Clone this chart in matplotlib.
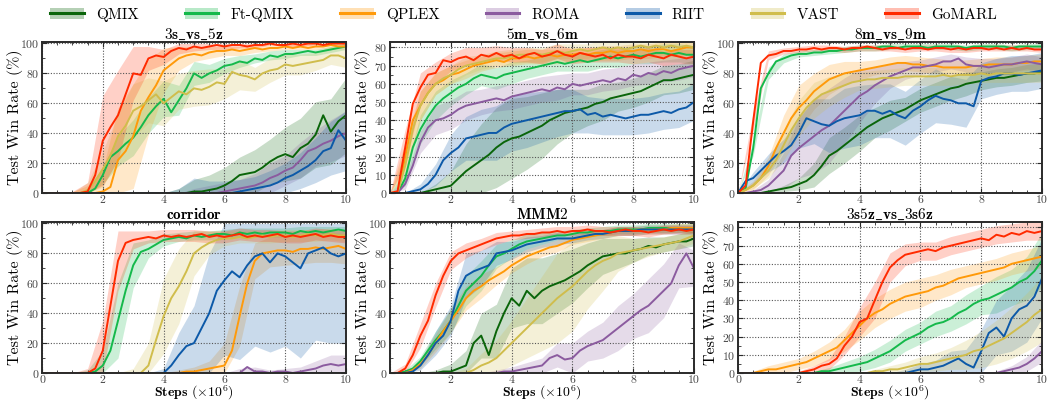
import numpy as np
import matplotlib
matplotlib.use('Agg')
import matplotlib.pyplot as plt
from matplotlib.lines import Line2D
from matplotlib.patches import Patch
from matplotlib.ticker import MultipleLocator

plt.rcParams.update({
    'font.family': 'serif', 'font.serif': ['cmr10'], 'mathtext.fontset': 'cm',
    'axes.formatter.use_mathtext': True, 'axes.unicode_minus': False,
})

methods = ['QMIX', 'Ft-QMIX', 'QPLEX', 'ROMA', 'RIIT', 'VAST', 'GoMARL']
colors = ['#0a650a', '#14b94b', '#ff9a0a', '#8b5b9f', '#0c59a8', '#d0bd4c', '#ff2a00']

steps = np.linspace(0, 10, 41)      # sample positions (x 1e6 steps)
band_steps = steps[::2]             # positions of the spread samples

titles = ['3s_vs_5z', '5m_vs_6m', '8m_vs_9m', 'corridor', 'MMM2', '3s5z_vs_3s6z']

mean_3s_vs_5z = {
    'QMIX': [0]*20 + [1,1,2,3,5,8,12,13,14,17,21,24,26,24,30,33,39,52,41,48,52],
    'Ft-QMIX': [0,0,0,0,0,0,0,3,12,24,28,33,37,44,52,58,63,54,62,70,80,77,80,82,85,86,88,87,90,89,92,91,93,93,94,95,94,95,96,97,98],
    'QPLEX': [0,0,0,0,0,0,0,0,1,4,22,28,38,55,64,72,82,86,90,92,93,92,94,95,95,96,95,96,97,96,97,97,98,97,98,97,98,98,99,98,98],
    'ROMA': [0]*24 + [1,2,3,4,5,7,10,12,15,17,22,28,30,33,35,38,40],
    'RIIT': [0]*26 + [1,2,3,4,5,7,10,12,15,18,22,28,30,42,35],
    'VAST': [0,0,0,0,0,0,2,8,16,25,38,45,55,58,62,66,60,64,68,66,70,69,71,74,73,81,79,78,76,80,82,83,86,85,86,87,88,89,92,92,90],
    'GoMARL': [0,0,0,0,0,0,1,12,35,44,52,66,80,79,90,92,91,95,97,96,98,97,98,99,98,99,99,98,99,99,100,99,99,100,99,100,100,99,100,100,100],
}
spread_3s_vs_5z = {
    'QMIX': [0]*9 + [3,8,10,12,12,15,15,18,20,22,22,25],
    'Ft-QMIX': [0,0,0,2,6,10,12,12,12,10,8,6,5,4,3,3,3,2,2,2,2],
    'QPLEX': [0,0,1,5,15,35,35,25,15,8,5,4,3,3,3,2,2,2,2,2,2],
    'ROMA': [0]*10 + [3,5,6,6,8,10,10,12,12,14,15],
    'RIIT': [0]*9 + [3,10,8,8,8,8,10,10,12,15,18,20],
    'VAST': [0,0,0,5,12,15,18,15,15,12,12,12,10,10,8,8,7,7,6,6,6],
    'GoMARL': [0,0,1,6,30,30,18,8,5,4,3,2,2,2,2,1,1,1,1,1,1],
}

mean_5m_vs_6m = {
    'QMIX': [0,0,0,0,0,1,2,3,4,8,12,15,18,21,25,28,30,31,33,35,37,40,42,44,45,46,47,49,50,52,53,54,55,56,58,60,62,62,63,64,65],
    'Ft-QMIX': [0,0,8,25,35,42,48,52,55,58,60,63,65,64,63,65,66,67,68,69,70,71,72,71,72,73,72,73,74,75,74,75,76,75,76,77,77,76,77,76,76],
    'QPLEX': [0,0,20,40,48,55,60,62,65,66,68,70,71,72,73,72,74,74,75,74,75,76,75,76,76,77,76,77,77,78,77,78,78,79,78,79,79,78,79,80,80],
    'ROMA': [0,0,5,15,28,36,40,41,43,46,48,49,50,51,52,51,53,54,55,56,57,56,58,57,60,59,60,61,62,61,63,62,65,64,66,65,67,66,68,69,70],
    'RIIT': [0,0,0,1,2,5,10,18,22,25,30,31,32,33,33,36,38,39,40,41,42,43,44,45,45,46,43,44,42,43,42,41,42,43,43,44,45,44,46,47,50],
    'VAST': [0,0,15,35,48,55,60,63,65,68,70,71,72,73,74,74,75,76,76,77,76,77,78,77,78,79,78,79,80,79,80,79,80,81,80,81,80,81,80,81,80],
    'GoMARL': [0,1,25,49,58,65,66,73,72,74,75,73,76,75,77,75,76,74,76,77,75,76,78,76,75,77,76,75,76,74,76,75,75,74,76,75,74,76,75,74,75],
}
spread_5m_vs_6m = {
    'QMIX': [0,0,0,3,8,15,20,22,22,20,18,15,12,10,10,8,8,8,8,8,8],
    'Ft-QMIX': [0,4,8,8,7,6,6,6,6,5,5,5,5,5,5,5,5,5,5,5,5],
    'QPLEX': [0,8,8,6,5,5,4,4,4,4,4,4,4,4,4,4,4,4,4,4,4],
    'ROMA': [0,3,6,8,8,8,7,7,7,7,7,7,6,6,6,6,6,6,6,6,6],
    'RIIT': [0,0,3,6,10,12,14,15,15,15,14,13,12,10,10,10,10,10,10,10,10],
    'VAST': [0,8,8,6,5,5,4,4,4,4,4,4,4,4,4,4,4,4,4,4,4],
    'GoMARL': [0,10,8,6,5,5,4,4,4,4,4,4,4,4,4,4,4,4,4,4,4],
}

mean_8m_vs_9m = {
    'QMIX': [0,0,0,0,1,2,3,4,6,8,12,18,25,28,32,36,40,44,47,50,52,54,56,59,62,64,66,68,70,71,73,74,75,76,77,77,78,79,80,80,81],
    'Ft-QMIX': [0,3,30,70,80,88,90,92,93,93,94,94,95,95,96,96,97,97,97,98,98,97,98,98,98,97,98,98,98,98,97,98,98,98,98,98,97,98,98,98,98],
    'QPLEX': [0,2,5,10,18,30,40,50,57,62,68,72,76,78,80,81,82,83,84,85,86,87,87,86,86,85,85,84,84,84,84,85,85,86,86,86,86,87,87,88,88],
    'ROMA': [0,0,1,2,5,10,15,25,30,34,38,42,45,50,55,60,65,68,72,75,78,80,82,84,84,85,86,88,88,90,86,85,85,84,85,86,86,87,88,87,86],
    'RIIT': [0,8,10,15,20,25,28,32,40,50,48,46,45,48,50,51,52,55,55,53,55,52,50,55,58,62,65,63,62,60,60,58,75,77,78,80,80,79,80,81,82],
    'VAST': [0,2,5,10,15,22,32,42,50,57,62,66,68,70,72,74,75,76,76,77,77,77,78,78,78,78,78,79,78,79,79,79,80,79,80,80,80,80,80,80,80],
    'GoMARL': [0,5,48,87,92,93,95,95,96,96,97,96,97,97,96,97,97,98,97,96,97,97,96,97,97,96,97,97,96,97,96,97,97,96,97,96,97,96,97,96,96],
}
spread_8m_vs_9m = {
    'QMIX': [0,0,0,2,4,8,12,12,12,10,10,8,8,8,8,8,6,6,6,6,6],
    'Ft-QMIX': [0,5,4,3,2,2,2,2,2,2,2,2,2,2,2,2,2,2,2,2,2],
    'QPLEX': [0,3,6,12,15,12,10,8,6,5,5,5,5,5,5,5,5,5,5,5,5],
    'ROMA': [0,1,4,12,20,25,25,22,18,12,8,6,5,5,5,5,5,5,5,5,5],
    'RIIT': [0,4,6,8,10,15,18,20,20,18,18,18,18,18,16,16,12,12,12,12,12],
    'VAST': [0,2,5,10,12,12,10,8,6,6,6,6,6,6,6,6,6,6,6,6,6],
    'GoMARL': [0,6,3,2,2,2,2,2,2,2,2,2,2,2,2,2,2,2,2,2,2],
}

mean_corridor = {
    'QMIX': [0]*41,
    'Ft-QMIX': [0,0,0,0,0,0,0,1,5,15,35,55,72,81,83,86,89,90,91,90,92,91,92,93,93,92,94,93,94,93,94,94,94,93,95,94,95,94,95,96,95],
    'QPLEX': [0]*19 + [1,1,2,3,4,5,15,38,60,75,80,81,82,82,81,83,83,84,83,84,85,83],
    'ROMA': [0]*27 + [4,1,1,0,1,1,0,1,2,3,5,6,5,6],
    'RIIT': [0]*17 + [5,12,18,20,30,40,55,62,68,64,72,78,80,74,80,78,74,70,80,82,84,80,78,80],
    'VAST': [0]*14 + [5,22,38,50,58,68,80,84,87,89,90,90,91,90,91,92,91,92,92,91,92,93,92,92,93,92,92],
    'GoMARL': [0,0,0,0,0,0,0,3,15,45,75,87,89,90,91,90,92,91,92,91,92,93,91,92,91,92,93,91,92,91,92,93,91,92,91,92,93,91,92,91,91],
}
spread_corridor = {
    'QMIX': [0]*21,
    'Ft-QMIX': [0,0,0,2,10,25,15,6,4,3,3,3,3,3,3,3,3,3,3,3,3],
    'QPLEX': [0]*9 + [2,3,5,15,20,12,10,10,10,10,10,10],
    'ROMA': [0]*13 + [3,3,2,2,3,5,6,6],
    'RIIT': [0]*8 + [3,15,25,40,50,55,60,60,60,60,60,60,60],
    'VAST': [0]*6 + [3,15,25,25,15,8,5,4,4,4,4,4,4,4,4],
    'GoMARL': [0,0,0,3,20,20,6,4,4,4,4,4,4,4,4,4,4,4,4,4,4],
}

mean_MMM2 = {
    'QMIX': [0,0,0,0,0,0,0,1,1,3,5,20,25,12,28,40,50,45,55,50,55,58,60,62,65,68,72,75,78,79,80,80,82,83,85,84,86,87,88,88,90],
    'Ft-QMIX': [0,0,1,3,8,15,22,28,35,45,55,60,65,72,78,80,83,86,88,89,90,91,92,92,93,94,94,95,95,95,96,96,96,96,97,97,97,97,97,97,97],
    'QPLEX': [0,0,0,2,6,12,20,28,35,42,50,55,58,62,65,68,72,75,78,80,82,84,85,87,89,90,91,92,93,94,95,95,95,96,96,96,96,97,97,97,97],
    'ROMA': [0]*15 + [1,1,2,3,4,5,10,12,9,10,15,18,20,22,26,30,34,38,42,45,50,55,60,72,80,70],
    'RIIT': [0,0,0,1,5,12,20,25,35,55,65,68,70,72,80,81,82,84,86,87,88,89,90,90,90,91,92,93,93,94,95,95,95,96,96,96,96,96,96,96,96],
    'VAST': [0]*11 + [2,5,7,10,15,20,25,30,35,40,45,50,54,58,63,68,72,75,77,80,81,82,83,84,85,86,87,88,90,92],
    'GoMARL': [0,0,3,12,25,35,52,65,75,80,82,84,86,88,90,91,92,92,93,93,94,94,95,94,95,95,96,95,95,94,95,96,95,95,94,95,96,95,96,95,96],
}
spread_MMM2 = {
    'QMIX': [0,0,0,2,5,10,15,18,20,22,22,20,18,15,12,10,8,6,5,5,5],
    'Ft-QMIX': [0,1,3,6,8,10,10,8,6,5,4,3,3,3,3,3,3,3,3,3,3],
    'QPLEX': [0,0,3,6,8,8,8,6,5,5,4,4,3,3,3,3,3,3,3,3,3],
    'ROMA': [0]*7 + [2,3,4,5,8,10,10,12,15,15,18,18,15,12],
    'RIIT': [0,0,3,8,10,15,12,8,6,5,4,4,3,3,3,3,3,3,3,3,3],
    'VAST': [0]*5 + [3,8,12,15,20,25,30,30,25,20,12,8,6,5,5,5],
    'GoMARL': [0,3,8,8,6,5,4,4,3,3,3,3,3,3,3,3,3,3,3,3,3],
}

mean_3s5z_vs_3s6z = {
    'QMIX': [0]*41,
    'Ft-QMIX': [0]*11 + [1,1,2,3,4,5,6,8,10,12,15,18,20,22,25,27,28,30,33,35,38,40,41,43,45,47,50,52,56,62],
    'QPLEX': [0,0,0,1,2,2,3,4,5,6,8,10,12,14,18,22,26,30,33,35,38,40,42,43,44,45,47,48,50,52,53,54,55,56,57,58,60,61,62,63,64],
    'ROMA': [0]*35 + [1,2,3,5,8,12],
    'RIIT': [0]*23 + [1,2,2,3,4,6,8,5,3,12,22,25,20,30,35,37,42,52],
    'VAST': [0]*18 + [1,1,2,2,3,4,5,5,6,7,8,9,10,12,13,15,17,19,22,25,28,32,35],
    'GoMARL': [0]*9 + [1,2,4,5,8,15,20,28,30,40,50,58,62,65,66,67,68,67,69,70,71,72,73,74,73,76,75,77,76,78,77,78],
}
spread_3s5z_vs_3s6z = {
    'QMIX': [0]*21,
    'Ft-QMIX': [0]*5 + [1,2,3,4,5,6,6,6,7,7,8,8,10,10,12,15],
    'QPLEX': [0,1,2,3,3,4,5,6,8,8,8,8,8,7,7,6,6,6,6,6,6],
    'ROMA': [0]*17 + [1,2,4,6],
    'RIIT': [0]*11 + [2,3,4,6,8,12,15,18,20,22],
    'VAST': [0]*9 + [1,2,3,4,5,6,8,10,12,14,16,18],
    'GoMARL': [0]*4 + [1,2,3,5,8,10,8,6,5,5,5,5,5,5,5,5,5],
}

means = [mean_3s_vs_5z, mean_5m_vs_6m, mean_8m_vs_9m, mean_corridor, mean_MMM2, mean_3s5z_vs_3s6z]
spreads = [spread_3s_vs_5z, spread_5m_vs_6m, spread_8m_vs_9m, spread_corridor, spread_MMM2, spread_3s5z_vs_3s6z]
ytops = [101, 83, 101, 101, 101, 83]
ymajor = [20, 10, 20, 20, 20, 10]
show_x0 = [False, False, False, True, False, True]

fig = plt.figure(figsize=(10.47, 4.04), dpi=100)
W, H = 1047, 404
lefts = [42, 390, 738]
tops = [42, 222]
aw, ah = 304, 151

spine_c = '#2a2a2a'
for i in range(6):
    r, c = divmod(i, 3)
    ax = fig.add_axes([lefts[c]/W, 1 - (tops[r]+ah)/H, aw/W, ah/H])
    for m, col in zip(methods, colors):
        y = np.array(means[i][m], dtype=float)
        s = np.array(spreads[i][m], dtype=float)
        yb = y[::2]
        lo = np.clip(yb - s, 0, 100)
        hi = np.clip(yb + s, 0, 100)
        ax.fill_between(band_steps, lo, hi, color=col, alpha=0.22, linewidth=0)
        ax.plot(steps, y, color=col, lw=1.4)
    ax.set_xlim(0, 10)
    ax.set_ylim(0, ytops[i])
    ax.xaxis.set_major_locator(MultipleLocator(2))
    ax.xaxis.set_minor_locator(MultipleLocator(0.5))
    ax.yaxis.set_major_locator(MultipleLocator(ymajor[i]))
    ax.yaxis.set_minor_locator(MultipleLocator(ymajor[i]/2))
    ax.tick_params(which='both', direction='in', top=True, right=True, colors=spine_c,
                   labelsize=8.5, labelcolor='#444444', pad=2)
    ax.tick_params(which='major', length=3.5, width=0.8)
    ax.tick_params(which='minor', length=2, width=0.6)
    ax.grid(True, which='major', linestyle=(0, (1, 1.5)), color='#555555', linewidth=0.8)
    for sp in ax.spines.values():
        sp.set_color(spine_c)
        sp.set_linewidth(1.4)
    xt = [0, 2, 4, 6, 8, 10]
    ax.set_xticks(xt)
    ax.set_xticklabels([('0' if show_x0[i] else '') if v == 0 else str(v) for v in xt])
    ax.set_title(r'$\mathbf{' + titles[i].replace('_', r'\_') + '}$', fontsize=11, pad=2)
    ax.set_ylabel('Test Win Rate (%)', fontsize=11.5)
    ax.yaxis.set_label_coords(-19 / aw, 0.5)
    if r == 1:
        ax.set_xlabel(r'$\mathbf{Steps}$ $(\times 10^6)$', fontsize=10)
        ax.xaxis.set_label_coords(0.5, -10.5 / ah)

handles = [(Patch(facecolor=col, alpha=0.3, linewidth=0), Line2D([], [], color=col, lw=2.2))
           for col in colors]
fig.legend(handles, methods, loc='upper center', bbox_to_anchor=(0.5, 1.015), ncol=7,
           frameon=False, fontsize=11, handlelength=2.2, columnspacing=3.0, handletextpad=0.8)

fig.savefig('out.png', dpi=100)
